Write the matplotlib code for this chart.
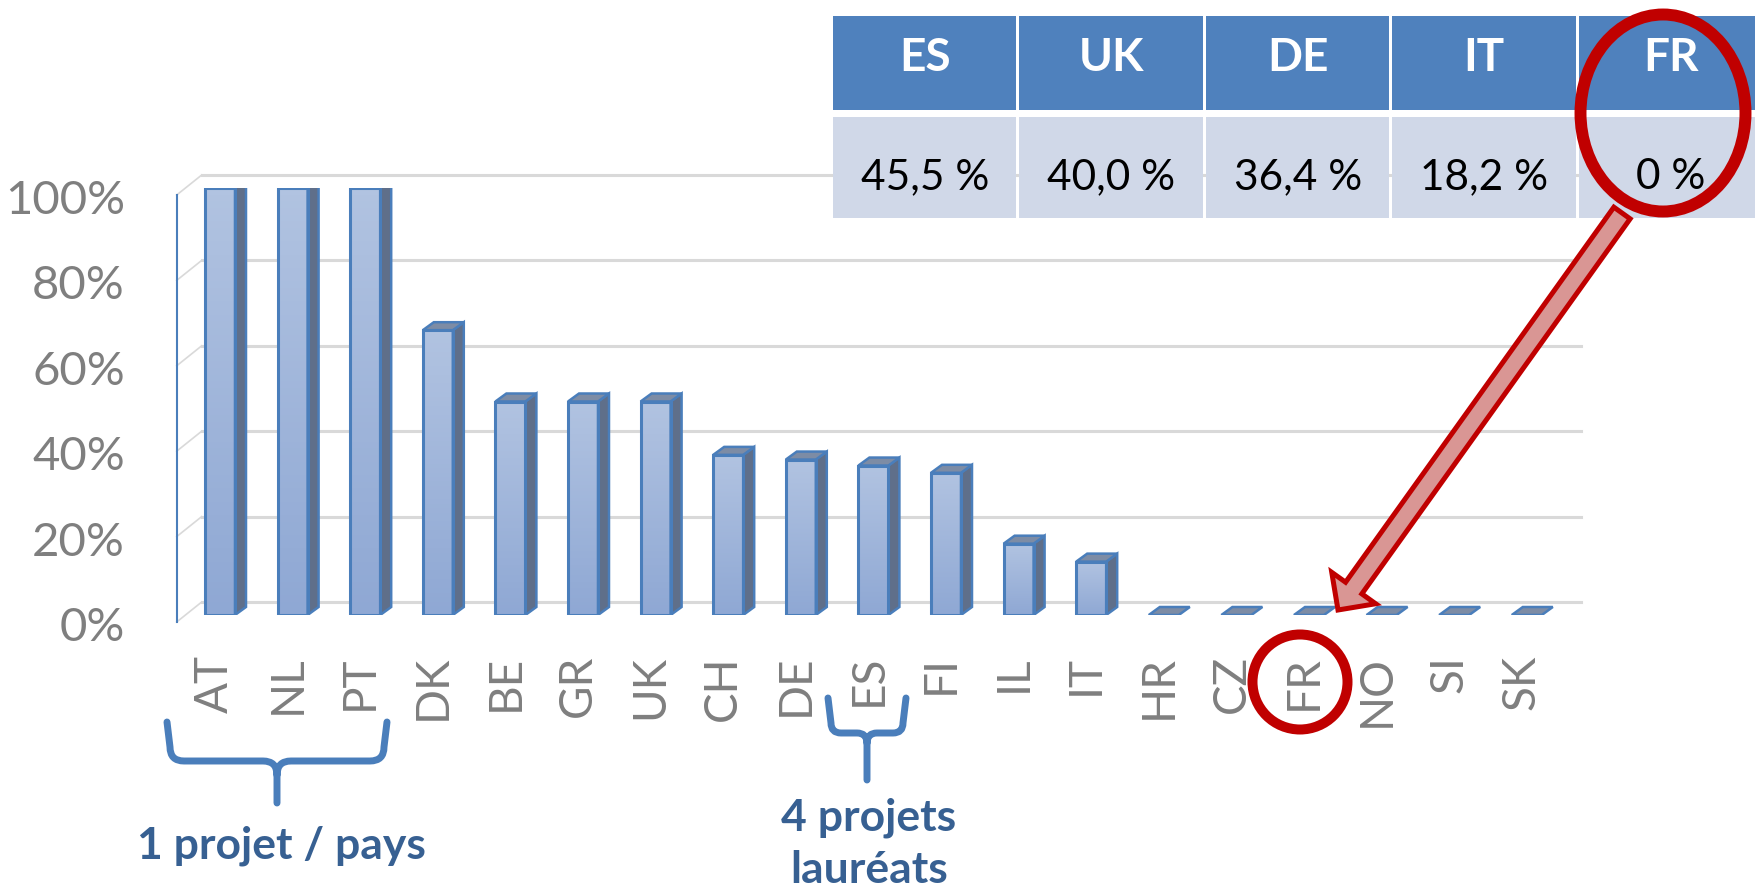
import matplotlib
matplotlib.use('Agg')
import matplotlib.pyplot as plt
import matplotlib.patches as mpatches
from matplotlib.path import Path
from matplotlib.transforms import offset_copy
from matplotlib.colors import LinearSegmentedColormap
import numpy as np

plt.rcParams['font.family'] = ['Lato', 'DejaVu Sans']

# share of winning projects per country
countries = ['AT', 'NL', 'PT', 'DK', 'BE', 'GR', 'UK', 'CH', 'DE', 'ES',
             'FI', 'IL', 'IT', 'HR', 'CZ', 'FR', 'NO', 'SI', 'SK']
share = [1.0, 1.0, 1.0, 0.667, 0.5, 0.5, 0.5, 0.375, 0.364, 0.35,
         0.333, 0.167, 0.125, 0.0, 0.0, 0.0, 0.0, 0.0, 0.0]
y_ticks = [0.0, 0.2, 0.4, 0.6, 0.8, 1.0]
y_tick_labels = ['0%', '20%', '40%', '60%', '80%', '100%']

# table in the top right corner
tab_countries = ['ES', 'UK', 'DE', 'IT', 'FR']
tab_share = [45.5, 40.0, 36.4, 18.2, 0.0]

W, H = 1755, 891
PX_X = 72.6    # pixels per category
PX_Y = 427.0   # pixels for 100 %
X0 = 220.0     # pixel centre of first bar
Y0 = 615.0     # pixel (from top) of the bar baseline

EDGE = '#4A7EBB'
GRID = '#D9D9D9'
GREY = '#7F7F7F'

fig = plt.figure(figsize=(W / 100, H / 100), dpi=100)
left = X0 - 0.5 * PX_X
ax = fig.add_axes([left / W, (H - Y0) / H, 19 * PX_X / W, PX_Y / H])
ax.axis('off')

# fake 3D depth offsets (data units)
bar_dx, bar_dy = 11 / PX_X, 8 / PX_Y
back_dx, back_dy = 18 / PX_X, 13 / PX_Y
front_dx, front_dy = -7 / PX_X, -7 / PX_Y
wall_x0, wall_x1 = -0.5, 18.5

for v in y_ticks:
    ax.plot([wall_x0 + back_dx, wall_x1 + back_dx], [v + back_dy] * 2,
            color=GRID, lw=2.2, zorder=1, clip_on=False)
    ax.plot([wall_x0 + front_dx, wall_x0 + back_dx], [v + front_dy, v + back_dy],
            color=GRID, lw=1.2, zorder=1, clip_on=False)
ax.plot([wall_x0 + front_dx] * 2, [front_dy, 1 + front_dy], color=EDGE, lw=1.5,
        zorder=2, clip_on=False)

x = np.arange(len(countries))
w = 30 / PX_X
bars = ax.bar(x, share, width=w, color='none', edgecolor=EDGE, lw=2.2, zorder=4)
cmap = LinearSegmentedColormap.from_list('face', ['#8FA8D4', '#B1C3E1'])
grad = np.linspace(0, 1, 64).reshape(-1, 1)
for rect, xi, v in zip(bars.patches, x, share):
    xl, xr = xi - w / 2, xi + w / 2
    if v > 0:
        im = ax.imshow(grad, extent=(xl, xr, 0, v), origin='lower', aspect='auto',
                       cmap=cmap, zorder=3)
        im.set_clip_path(rect)
        side = [(xr, 0), (xr + bar_dx, bar_dy), (xr + bar_dx, v + bar_dy), (xr, v)]
        ax.add_patch(mpatches.Polygon(side, closed=True, fc='#5F6F8A', ec=EDGE,
                                      lw=1.8, zorder=3.5))
    top = [(xl, v), (xr, v), (xr + bar_dx, v + bar_dy), (xl + bar_dx, v + bar_dy)]
    ax.add_patch(mpatches.Polygon(top, closed=True, fc='#7D8CA5', ec=EDGE,
                                  lw=1.8, zorder=3.5))

ax.set_xlim(-0.5, 18.5)
ax.set_ylim(0, 1)

xlab_tr = offset_copy(ax.transData, fig=fig, x=-5, y=-40, units='dots')
for xi, c in zip(x, countries):
    ax.text(xi, 0, c, transform=xlab_tr, rotation=90, ha='center', va='top',
            fontsize=33, color=GREY)

ylab_tr = offset_copy(ax.transData, fig=fig, x=125 - left, y=-26, units='dots')
for v, lab in zip(y_ticks, y_tick_labels):
    ax.text(wall_x0, v, lab, transform=ylab_tr, ha='right', va='baseline',
            fontsize=34, color=GREY)

# overlay in pixel coordinates for the table and the annotations
ov = fig.add_axes([0, 0, 1, 1])
ov.set_xlim(0, W)
ov.set_ylim(H, 0)
ov.axis('off')

col_w, gap, tab_x0 = 186.5, 3, 833
for k, (c, v) in enumerate(zip(tab_countries, tab_share)):
    cx = tab_x0 + k * col_w
    ov.add_patch(mpatches.Rectangle((cx, 16), col_w - gap, 94, fc='#4F81BD', ec='none'))
    ov.add_patch(mpatches.Rectangle((cx, 117), col_w - gap, 101, fc='#D0D8E8', ec='none'))
    mid = cx + (col_w - gap) / 2
    ov.text(mid, 71, c, ha='center', va='baseline', fontsize=33,
            fontweight='bold', color='white')
    txt = '0 %' if v == 0 else '{:.1f} %'.format(v).replace('.', ',')
    ov.text(mid, 189, txt, ha='center', va='baseline', fontsize=30.5, color='black')


def brace(xl, xr, yt, ym, yb, r=14):
    xm = (xl + xr) / 2
    verts = [(xl, yt), (xl + 3, ym - r), (xl + 3, ym), (xl + 3 + r, ym),
             (xm - r, ym), (xm, ym), (xm, ym + r), (xm, yb),
             (xm, ym + r), (xm, ym), (xm + r, ym),
             (xr - 3 - r, ym), (xr - 3, ym), (xr - 3, ym - r), (xr, yt)]
    codes = [Path.MOVETO, Path.LINETO, Path.CURVE3, Path.CURVE3,
             Path.LINETO, Path.CURVE3, Path.CURVE3, Path.LINETO,
             Path.MOVETO, Path.CURVE3, Path.CURVE3,
             Path.LINETO, Path.CURVE3, Path.CURVE3, Path.LINETO]
    ov.add_patch(mpatches.PathPatch(Path(verts, codes), fc='none', ec=EDGE,
                                    lw=5, capstyle='round', joinstyle='round'))


brace(167, 387, 722, 761, 803)
brace(828, 906, 698, 733, 780, r=10)

NAVY = '#376092'
ov.text(281, 858, '1 projet / pays', ha='center', va='baseline', fontsize=32,
        fontweight='bold', color=NAVY)
ov.text(869, 830, '4 projets', ha='center', va='baseline', fontsize=32,
        fontweight='bold', color=NAVY)
ov.text(869, 883, 'lauréats', ha='center', va='baseline', fontsize=32,
        fontweight='bold', color=NAVY)

RED = '#C00000'
ov.add_patch(mpatches.FancyArrow(1622, 213, 1338 - 1622, 610 - 213, width=20,
                                 head_width=54, head_length=27,
                                 length_includes_head=True, fc='#D99694', ec=RED,
                                 lw=3.6, joinstyle='miter'))
ov.add_patch(mpatches.Ellipse((1663, 113), 165, 197, fc='none', ec=RED, lw=8.6))
ov.add_patch(mpatches.Ellipse((1300, 682), 95, 95, fc='none', ec=RED, lw=7.2))

fig.savefig('out.png', dpi=100)
